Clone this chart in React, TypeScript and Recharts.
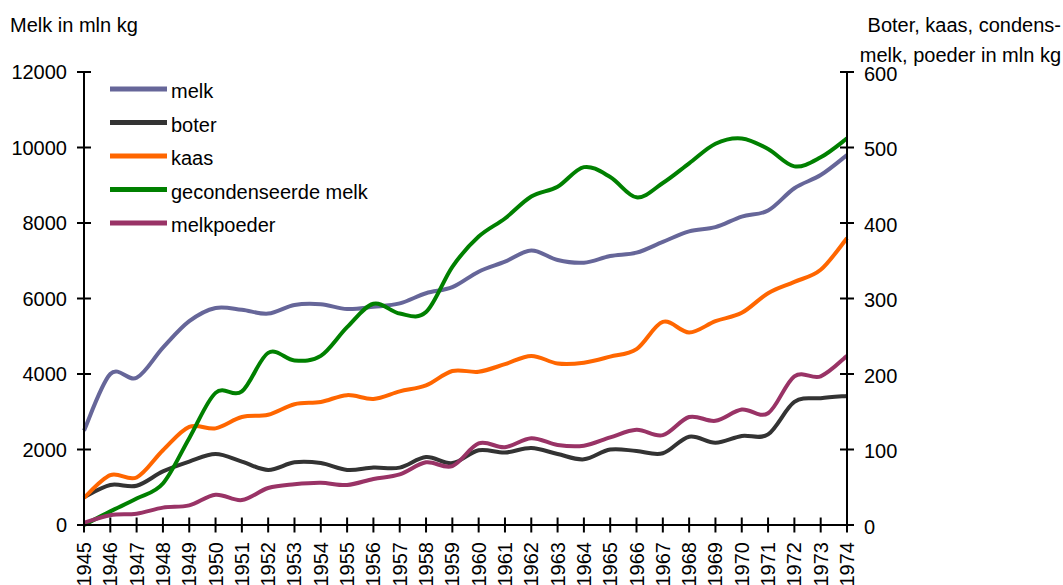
import React from "react";
import { LineChart, Line, XAxis, YAxis, Legend } from "recharts";

// Zuivelproductie in Nederland, 1945-1974
const years = [
  "1945", "1946", "1947", "1948", "1949", "1950", "1951", "1952", "1953", "1954",
  "1955", "1956", "1957", "1958", "1959", "1960", "1961", "1962", "1963", "1964",
  "1965", "1966", "1967", "1968", "1969", "1970", "1971", "1972", "1973", "1974",
];

// linker as, mln kg
const melk = [
  2500, 4000, 3900, 4700, 5400, 5750, 5700, 5600, 5830, 5850,
  5720, 5780, 5870, 6140, 6300, 6710, 6975, 7270, 7020, 6950,
  7125, 7215, 7500, 7780, 7890, 8170, 8330, 8920, 9270, 9800,
];

// rechter as, mln kg
const boter = [
  37, 53, 52, 71, 84, 94, 84, 73, 83, 82,
  73, 76, 76, 90, 82, 99, 96, 102, 94, 87,
  100, 98, 95, 117, 109, 118, 120, 163, 168, 171,
];
const kaas = [
  36, 66, 63, 99, 130, 128, 143, 146, 160, 163,
  172, 167, 177, 185, 204, 203, 213, 224, 214, 215,
  223, 233, 269, 255, 270, 281, 307, 322, 338, 380,
];
const gecondenseerd = [
  0, 18, 35, 55, 115, 175, 177, 228, 218, 224,
  262, 293, 280, 282, 342, 382, 406, 435, 448, 474,
  461, 434, 453, 479, 505, 512, 498, 475, 487, 512,
];
const melkpoeder = [
  3, 13, 15, 23, 26, 40, 33, 49, 54, 56,
  53, 61, 67, 83, 78, 108, 103, 115, 106, 105,
  116, 126, 119, 143, 138, 153, 148, 197, 197, 224,
];

const leftTicks = [0, 2000, 4000, 6000, 8000, 10000, 12000];
const rightTicks = [0, 100, 200, 300, 400, 500, 600];

const SERIES = [
  { key: "melk", name: "melk", color: "#666699", axis: "left", values: melk },
  { key: "boter", name: "boter", color: "#333333", axis: "right", values: boter },
  { key: "kaas", name: "kaas", color: "#FF6600", axis: "right", values: kaas },
  { key: "gecondenseerd", name: "gecondenseerde melk", color: "#008000", axis: "right", values: gecondenseerd },
  { key: "melkpoeder", name: "melkpoeder", color: "#993366", axis: "right", values: melkpoeder },
];

const data = years.map((year, i) => {
  const row: Record<string, any> = { year };
  SERIES.forEach((s) => (row[s.key] = s.values[i]));
  return row;
});

const FONT = "'Liberation Sans', Arial, Helvetica, sans-serif";
const TICK_SIZE = 7;
const TICK_GAP = 10;

// Excel-achtige gladde lijn (Catmull-Rom door alle punten)
const smoothCurve = (context: any) => {
  let pts: number[][] = [];
  return {
    areaStart() {},
    areaEnd() {},
    lineStart() {
      pts = [];
    },
    point(x: number, y: number) {
      pts.push([+x, +y]);
    },
    lineEnd() {
      if (!pts.length) return;
      context.moveTo(pts[0][0], pts[0][1]);
      for (let i = 0; i < pts.length - 1; i++) {
        const p0 = pts[i - 1] || pts[i];
        const p1 = pts[i];
        const p2 = pts[i + 1];
        const p3 = pts[i + 2] || p2;
        context.bezierCurveTo(
          p1[0] + (p2[0] - p0[0]) / 6,
          p1[1] + (p2[1] - p0[1]) / 6,
          p2[0] - (p3[0] - p1[0]) / 6,
          p2[1] - (p3[1] - p1[1]) / 6,
          p2[0],
          p2[1]
        );
      }
    },
  };
};

// tickstreepjes die door de as heen steken
const LeftTick = ({ x, y, payload }: any) => {
  const axisX = x + TICK_SIZE + TICK_GAP;
  return (
    <g>
      <line x1={axisX - 7} x2={axisX + 7} y1={y} y2={y} stroke="#000" strokeWidth={2} />
      <text x={x} y={y} textAnchor="end" dominantBaseline="central" fontSize={20} fontFamily={FONT} fill="#000">
        {payload.value}
      </text>
    </g>
  );
};

const RightTick = ({ x, y, payload }: any) => {
  const axisX = x - TICK_SIZE - TICK_GAP;
  return (
    <g>
      <line x1={axisX - 7} x2={axisX + 7} y1={y} y2={y} stroke="#000" strokeWidth={2} />
      <text x={x} y={y + 1.5} textAnchor="start" dominantBaseline="central" fontSize={20} fontFamily={FONT} fill="#000">
        {payload.value}
      </text>
    </g>
  );
};

const YearTick = ({ x, y, payload }: any) => {
  const axisY = y - TICK_SIZE - TICK_GAP;
  return (
    <g>
      <line x1={x} x2={x} y1={axisY - 7.5} y2={axisY + 7.5} stroke="#000" strokeWidth={2} />
      <text
        x={x}
        y={y}
        transform={`rotate(-90, ${x}, ${y})`}
        textAnchor="end"
        dominantBaseline="central"
        fontSize={20}
        fontFamily={FONT}
        fill="#000"
      >
        {payload.value}
      </text>
    </g>
  );
};

const renderLegend = () => (
  <svg width={320} height={170} style={{ display: "block", overflow: "visible" }}>
    {SERIES.map((s, i) => (
      <g key={s.key} transform={`translate(0, ${i * 33.5})`}>
        <line x1={0} x2={57} y1={6} y2={6} stroke={s.color} strokeWidth={5} />
        <text x={61} y={15} fontSize={20} fontFamily={FONT} fill="#000">
          {s.name}
        </text>
      </g>
    ))}
  </svg>
);

export default function App() {
  return (
    <div style={{ position: "absolute", left: 0, top: 0, width: 1063, height: 585, background: "#fff", fontFamily: FONT }}>
      <svg width={1063} height={80} style={{ position: "absolute", left: 0, top: 0 }}>
        <text x={10} y={31.5} fontSize={20} fontFamily={FONT} fill="#000">
          Melk in mln kg
        </text>
        <text x={1061} y={31.5} textAnchor="end" fontSize={20} fontFamily={FONT} fill="#000">
          Boter, kaas, condens-
        </text>
        <text x={1061} y={61.5} textAnchor="end" fontSize={20} fontFamily={FONT} fill="#000">
          melk, poeder in mln kg
        </text>
      </svg>
      <LineChart
        width={1063}
        height={585}
        data={data}
        margin={{ top: 72, right: 116, left: 0, bottom: 0 }}
        style={{ position: "absolute", left: 0, top: 0 }}
      >
        <XAxis
          dataKey="year"
          interval={0}
          height={60}
          tickSize={TICK_SIZE}
          tickMargin={TICK_GAP}
          tickLine={false}
          axisLine={{ stroke: "#000", strokeWidth: 2 }}
          tick={<YearTick />}
        />
        <YAxis
          yAxisId="left"
          width={84}
          domain={[0, 12000]}
          ticks={leftTicks}
          interval={0}
          tickSize={TICK_SIZE}
          tickMargin={TICK_GAP}
          tickLine={false}
          axisLine={{ stroke: "#000", strokeWidth: 2 }}
          tick={<LeftTick />}
        />
        <YAxis
          yAxisId="right"
          orientation="right"
          width={100}
          domain={[0, 600]}
          ticks={rightTicks}
          interval={0}
          tickSize={TICK_SIZE}
          tickMargin={TICK_GAP}
          tickLine={false}
          axisLine={{ stroke: "#000", strokeWidth: 2 }}
          tick={<RightTick />}
        />
        <Legend
          layout="vertical"
          align="center"
          verticalAlign="middle"
          content={renderLegend}
          wrapperStyle={{ left: 110, top: 83, width: 320, height: 170 }}
        />
        {SERIES.map((s) => (
          <Line
            key={s.key}
            yAxisId={s.axis}
            dataKey={s.key}
            name={s.name}
            type={smoothCurve as any}
            stroke={s.color}
            strokeWidth={4}
            dot={false}
            activeDot={false}
            isAnimationActive={false}
          />
        ))}
      </LineChart>
    </div>
  );
}
